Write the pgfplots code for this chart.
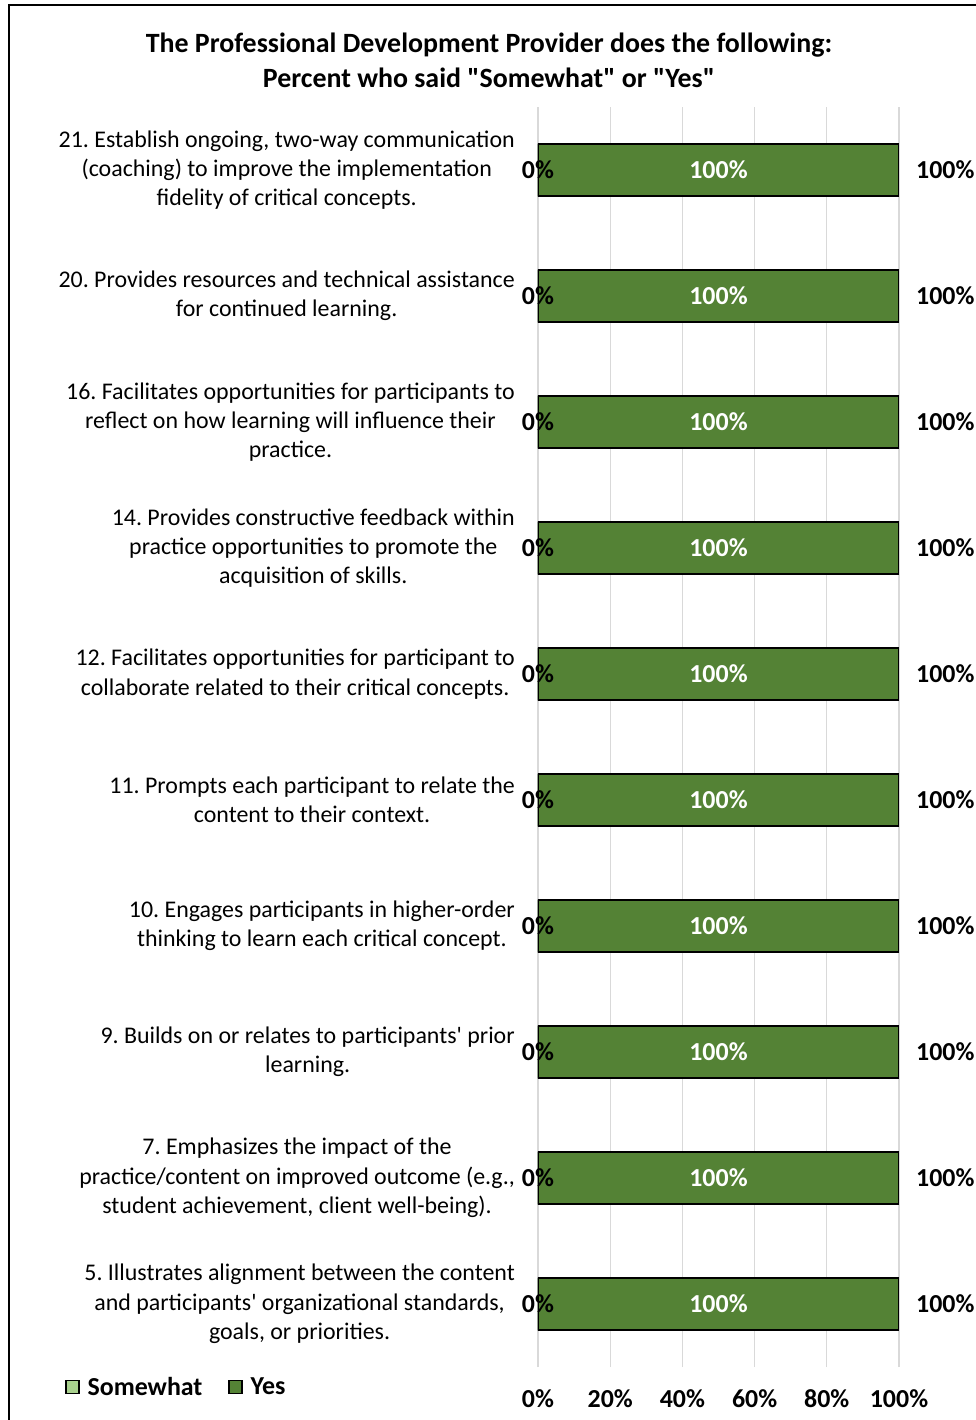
\documentclass[border=0pt]{standalone}
\usepackage{fontspec}
\setmainfont{Carlito}[Ligatures=TeXOff]
\usepackage{pgfplots}
\usepackage{pgfplotstable}
\pgfplotsset{compat=1.18}
\frenchspacing

\definecolor{yesgreen}{RGB}{84,130,53}
\definecolor{somegreen}{RGB}{169,209,142}
\definecolor{gridgray}{RGB}{217,217,217}

% idx 0 = item 5 (bottom), idx 9 = item 21 (top)
\pgfplotstableread{
idx somewhat yes half
0 0 100 50
1 0 100 50
2 0 100 50
3 0 100 50
4 0 100 50
5 0 100 50
6 0 100 50
7 0 100 50
8 0 100 50
9 0 100 50
}\provider

\newcommand{\lblfont}{\bfseries\fontsize{26}{30}\selectfont}

\begin{document}
\begin{tikzpicture}
\path[use as bounding box] (-538bp,-53bp) rectangle (438bp,1367bp);
\begin{axis}[
    scale only axis,
    width=361bp, height=1260bp,
    xmin=0, xmax=100,
    ymin=-0.5, ymax=9.5,
    axis line style={draw=none},
    major tick length=0pt,
    xtick={0,20,40,60,80,100},
    xticklabel={\pgfmathprintnumber{\tick}\%},
    xticklabel style={font=\lblfont, inner sep=0pt, yshift=-22bp},
    /pgf/number format/assume math mode=true,
    xmajorgrids,
    grid style={gridgray, line width=1.2bp},
    ytick={0,...,9},
    yticklabels={
        {5. Illustrates alignment between the content\\and participants' organizational standards,\\goals, or priorities.},
        {7. Emphasizes the impact of the\\practice/content on improved outcome (e.g.,\\student achievement, client well-being).},
        {9. Builds on or relates to participants' prior\\learning.},
        {10. Engages participants in higher-order\\thinking to learn each critical concept.},
        {11. Prompts each participant to relate the\\content to their context.},
        {12. Facilitates opportunities for participant to\\collaborate related to their critical concepts.},
        {14. Provides constructive feedback within\\practice opportunities to promote the\\acquisition of skills.},
        {16. Facilitates opportunities for participants to\\reflect on how learning will influence their\\practice.},
        {20. Provides resources and technical assistance\\for continued learning.},
        {21. Establish ongoing, two-way communication\\(coaching) to improve the implementation\\fidelity of critical concepts.}
    },
    yticklabel style={font=\fontsize{24}{29.5}\selectfont, align=center, inner sep=0pt, xshift=-23bp},
    title={The Professional Development Provider does the following:\\Percent who said "Somewhat" or "Yes"},
    title style={font=\bfseries\fontsize{28}{35}\selectfont, align=center, anchor=center,
        at={(-0.1357,1.0325)}},
    legend style={at={(-1.318,-0.0159)}, anchor=west, draw=none, fill=none,
        font=\lblfont, legend columns=2,
        /tikz/every odd column/.append style={column sep=6bp},
        /tikz/every even column/.append style={column sep=24bp}},
    legend image code/.code={\draw[#1, line width=1.2bp] (0bp,-6.5bp) rectangle (13bp,6.5bp);},
]
\addplot[xbar, bar shift=0pt, bar width=52bp, fill=somegreen, draw=black, line width=1.5bp]
    table[x=somewhat, y=idx] {\provider};
\addlegendentry{Somewhat}
\addplot[xbar, bar shift=0pt, bar width=52bp, fill=yesgreen, draw=black, line width=1.5bp]
    table[x=yes, y=idx] {\provider};
\addlegendentry{Yes}
% data labels
\addplot[forget plot, only marks, mark=none, point meta=\thisrow{somewhat},
    nodes near coords={\pgfmathprintnumber{\pgfplotspointmeta}\%},
    nodes near coords style={anchor=center, font=\lblfont, text=black}]
    table[x=somewhat, y=idx] {\provider};
\addplot[forget plot, only marks, mark=none, point meta=\thisrow{yes},
    nodes near coords={\pgfmathprintnumber{\pgfplotspointmeta}\%},
    nodes near coords style={anchor=center, font=\lblfont, text=white}]
    table[x=half, y=idx] {\provider};
\addplot[forget plot, only marks, mark=none, point meta=\thisrow{yes},
    nodes near coords={\pgfmathprintnumber{\pgfplotspointmeta}\%},
    nodes near coords style={anchor=west, xshift=17bp, inner sep=0pt, font=\lblfont, text=black}]
    table[x=yes, y=idx] {\provider};
\end{axis}
\draw[black, line width=1.5bp] (-529bp,-60bp) -- (-529bp,1362bp) -- (445bp,1362bp);
\end{tikzpicture}
\end{document}
